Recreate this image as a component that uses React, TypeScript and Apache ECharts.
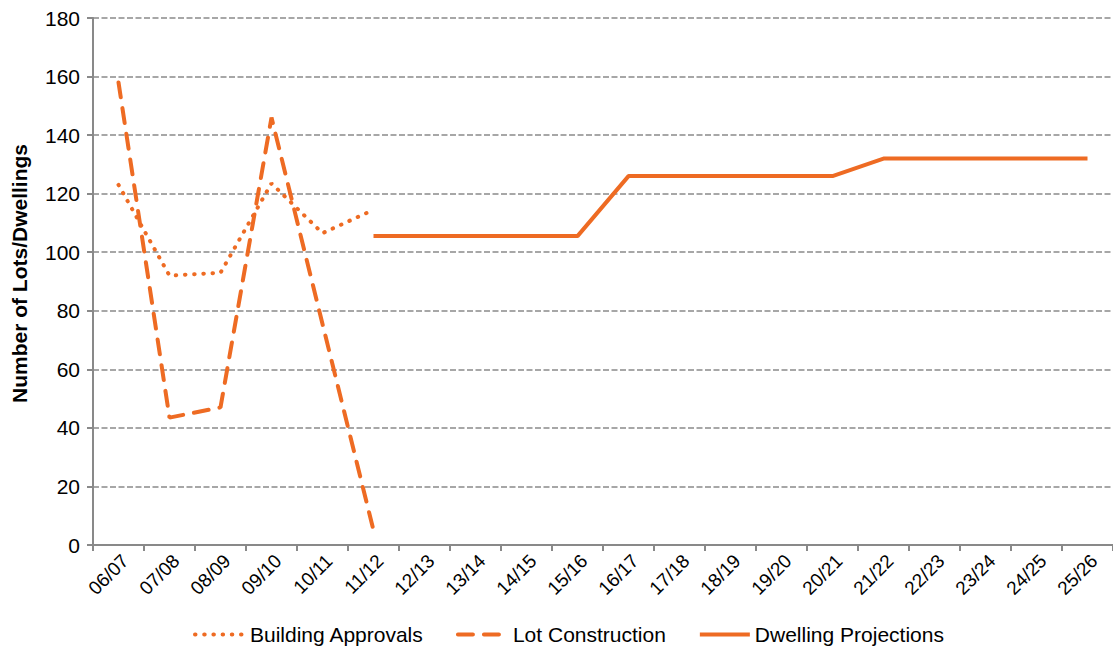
import React, { useEffect, useRef } from "react";
import * as echarts from "echarts";

const categories = [
  "06/07", "07/08", "08/09", "09/10", "10/11", "11/12", "12/13", "13/14", "14/15", "15/16",
  "16/17", "17/18", "18/19", "19/20", "20/21", "21/22", "22/23", "23/24", "24/25", "25/26",
];
const buildingApprovals = [123, 92, 93, 123.5, 106.5, 114.5, null, null, null, null, null, null, null, null, null, null, null, null, null, null];
const lotConstruction = [158, 43.5, 47, 146, 75.5, 5, null, null, null, null, null, null, null, null, null, null, null, null, null, null];
const dwellingProjections = [null, null, null, null, null, 105.5, 105.5, 105.5, 105.5, 105.5, 126, 126, 126, 126, 126, 132, 132, 132, 132, 132];
const yTicks = { min: 0, max: 180, interval: 20 };

const ORANGE = "#EE6B23";
const FONT = "'Liberation Sans', Arial, sans-serif";

export default function App() {
  const ref = useRef<HTMLDivElement>(null);
  useEffect(() => {
    if (!ref.current) return;
    const chart = echarts.init(ref.current, null, { renderer: "svg" });
    chart.setOption({
      animation: false,
      backgroundColor: "#ffffff",
      textStyle: { fontFamily: FONT },
      grid: { left: 93, right: -4, top: 18, bottom: 108, containLabel: false },
      legend: {
        left: 188,
        top: 619,
        itemWidth: 50,
        itemHeight: 14,
        itemGap: 32,
        itemStyle: { opacity: 0 },
        lineStyle: { width: 4 },
        textStyle: { fontSize: 21, color: "#000", fontFamily: FONT },
        data: ["Building Approvals", "Lot Construction", "Dwelling Projections"],
      },
      xAxis: {
        type: "category",
        data: categories,
        boundaryGap: true,
        axisLine: { lineStyle: { color: "#898989", width: 2 } },
        axisTick: { show: true, length: 6, lineStyle: { color: "#898989", width: 2 } },
        axisLabel: {
          interval: 0,
          rotate: 45,
          fontSize: 19,
          color: "#000",
          fontFamily: FONT,
          margin: 6,
          verticalAlign: "top",
        },
      },
      yAxis: {
        type: "value",
        min: yTicks.min,
        max: yTicks.max,
        interval: yTicks.interval,
        name: "Number of Lots/Dwellings",
        nameLocation: "middle",
        nameGap: 63,
        nameTextStyle: {
          fontSize: 21,
          fontWeight: "bold",
          color: "#000",
          fontFamily: FONT,
          padding: [0, 0, 0, 16],
        },
        axisLine: { show: true, lineStyle: { color: "#898989", width: 2 } },
        axisTick: { show: true, length: 6, lineStyle: { color: "#898989", width: 2 } },
        axisLabel: { fontSize: 21, color: "#000", fontFamily: FONT, margin: 13 },
        splitLine: { show: true, lineStyle: { color: "#8a8a8a", width: 1.5, type: [6, 2.5] } },
      },
      series: [
        {
          name: "Building Approvals",
          type: "line",
          data: buildingApprovals,
          symbol: "none",
          connectNulls: false,
          itemStyle: { color: ORANGE },
          lineStyle: { color: ORANGE, width: 4, type: [0.5, 8.7], cap: "round" },
        },
        {
          name: "Lot Construction",
          type: "line",
          data: lotConstruction,
          symbol: "none",
          itemStyle: { color: ORANGE },
          lineStyle: { color: ORANGE, width: 4, type: [15, 11], cap: "round" },
        },
        {
          name: "Dwelling Projections",
          type: "line",
          data: dwellingProjections,
          symbol: "none",
          itemStyle: { color: ORANGE },
          lineStyle: { color: ORANGE, width: 4 },
        },
      ],
    });
    return () => chart.dispose();
  }, []);
  return (
    <div
      ref={ref}
      style={{ position: "fixed", left: 0, top: 0, width: 1113, height: 653 }}
    />
  );
}
